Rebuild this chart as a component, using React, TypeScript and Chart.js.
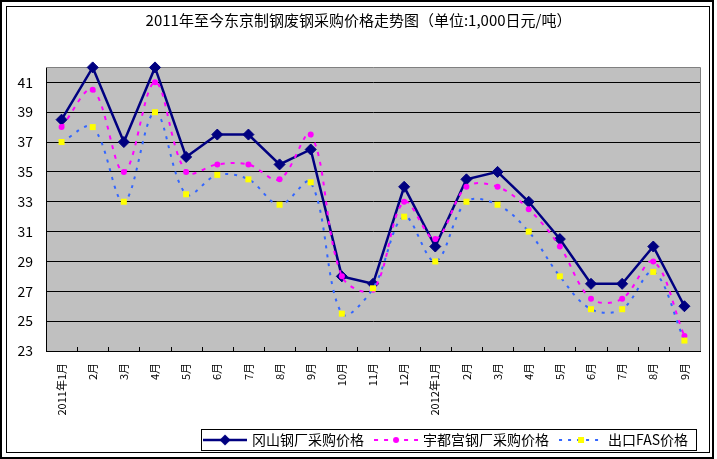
import React, { useEffect, useRef } from 'react';
import { Chart, registerables } from 'chart.js';

Chart.register(...registerables);

const FONT = "'Noto Sans CJK SC', 'DejaVu Sans', sans-serif";

const titleText = '2011年至今东京制钢废钢采购价格走势图（单位:1,000日元/吨）';

const categories = [
  '2011年1月', '2月', '3月', '4月', '5月', '6月', '7月', '8月', '9月', '10月', '11月', '12月',
  '2012年1月', '2月', '3月', '4月', '5月', '6月', '7月', '8月', '9月',
];

const seriesNames = ['冈山钢厂采购价格', '宇都宫钢厂采购价格', '出口FAS价格'];

const okayamaPrices = [38.5, 42, 37, 42, 36, 37.5, 37.5, 35.5, 36.5, 28, 27.5, 34, 30, 34.5, 35, 33, 30.5, 27.5, 27.5, 30, 26];
const utsunomiyaPrices = [38, 40.5, 35, 41, 35, 35.5, 35.5, 34.5, 37.5, 28, 27.1, 33, 30.5, 34, 34, 32.5, 30, 26.5, 26.5, 29, 24];
const fasPrices = [37, 38, 33, 39, 33.5, 34.8, 34.5, 32.8, 34.3, 25.5, 27.2, 32, 29, 33, 32.8, 31, 28, 25.8, 25.8, 28.3, 23.7];

const yTickValues = [23, 25, 27, 29, 31, 33, 35, 37, 39, 41];
const yMin = 23;
const yMax = 42;

function makeSample(kind: number): HTMLCanvasElement {
  const c = document.createElement('canvas');
  c.width = 44;
  c.height = 14;
  const g = c.getContext('2d')!;
  const cy = 7;
  if (kind === 0) {
    g.strokeStyle = '#000080';
    g.lineWidth = 2.5;
    g.beginPath();
    g.moveTo(0, cy);
    g.lineTo(44, cy);
    g.stroke();
    g.fillStyle = '#000080';
    g.beginPath();
    g.moveTo(22, cy - 5.5);
    g.lineTo(27.5, cy);
    g.lineTo(22, cy + 5.5);
    g.lineTo(16.5, cy);
    g.closePath();
    g.fill();
  } else if (kind === 1) {
    g.strokeStyle = '#FF00FF';
    g.lineWidth = 2;
    g.setLineDash([4, 6]);
    g.beginPath();
    g.moveTo(0, cy);
    g.lineTo(44, cy);
    g.stroke();
    g.fillStyle = '#FF00FF';
    g.beginPath();
    g.arc(22, cy, 3, 0, Math.PI * 2);
    g.fill();
  } else {
    g.strokeStyle = '#3366FF';
    g.lineWidth = 2;
    g.setLineDash([3, 6]);
    g.beginPath();
    g.moveTo(0, cy);
    g.lineTo(44, cy);
    g.stroke();
    g.fillStyle = '#FFFF00';
    g.fillRect(19, cy - 3, 6, 6);
  }
  return c;
}

const framePlugin = {
  id: 'frame',
  afterLayout(chart: any) {
    const tb = chart.titleBlock;
    if (tb) {
      tb.left = 0;
      tb.right = chart.width;
    }
  },
  beforeDraw(chart: any) {
    const { ctx, chartArea: a, width, height } = chart;
    ctx.save();
    ctx.fillStyle = '#FFFFFF';
    ctx.fillRect(0, 0, width, height);
    ctx.fillStyle = '#C0C0C0';
    ctx.fillRect(a.left, a.top, a.right - a.left, a.bottom - a.top);
    ctx.strokeStyle = '#000';
    ctx.lineWidth = 2;
    ctx.strokeRect(1, 1, width - 5, height - 2);
    ctx.lineWidth = 1;
    ctx.strokeRect(6.5, 6.5, width - 14, height - 13);
    ctx.restore();
  },
  beforeDatasetsDraw(chart: any) {
    const { ctx, chartArea: a } = chart;
    const xs = chart.scales.x;
    ctx.save();
    ctx.strokeStyle = '#808080';
    ctx.lineWidth = 1;
    const top = Math.floor(a.top) + 0.5;
    const right = Math.round(a.right) + 0.5;
    ctx.beginPath();
    ctx.moveTo(a.left, top);
    ctx.lineTo(right, top);
    ctx.lineTo(right, a.bottom);
    ctx.stroke();
    ctx.strokeStyle = '#000';
    ctx.beginPath();
    for (let i = 0; i < categories.length - 1; i++) {
      const px = Math.round((xs.getPixelForValue(i) + xs.getPixelForValue(i + 1)) / 2) + 0.5;
      ctx.moveTo(px, a.bottom - 4);
      ctx.lineTo(px, a.bottom);
    }
    ctx.stroke();
    ctx.restore();
  },
  afterDraw(chart: any) {
    const lg = chart.legend;
    if (!lg || !lg.lineWidths) return;
    const { ctx } = chart;
    const pad = lg.options.labels.padding;
    const start = lg.right - lg.lineWidths[0];
    const end = lg.right - pad;
    const cy = lg.top + pad + 7;
    ctx.save();
    ctx.strokeStyle = '#000';
    ctx.lineWidth = 1;
    ctx.strokeRect(Math.round(start - 4) + 0.5, Math.round(cy - 11) + 0.5, Math.round(end - start + 12), 21);
    ctx.restore();
  },
};

export default function App() {
  const ref = useRef<HTMLCanvasElement | null>(null);

  useEffect(() => {
    if (!ref.current) return;
    const samples = [makeSample(0), makeSample(1), makeSample(2)];
    const chart = new Chart(ref.current, {
      type: 'line',
      data: {
        labels: categories,
        datasets: [
          {
            label: seriesNames[0],
            data: okayamaPrices,
            borderColor: '#000080',
            backgroundColor: '#000080',
            borderWidth: 2.5,
            pointStyle: 'rectRot',
            pointRadius: 5.5,
            pointBackgroundColor: '#000080',
            pointBorderColor: '#000080',
            pointBorderWidth: 1,
            tension: 0,
            clip: false,
            order: 2,
          },
          {
            label: seriesNames[1],
            data: utsunomiyaPrices,
            borderColor: '#FF00FF',
            backgroundColor: '#FF00FF',
            borderWidth: 2,
            borderDash: [4, 6],
            pointStyle: 'circle',
            pointRadius: 3,
            pointBackgroundColor: '#FF00FF',
            pointBorderColor: '#FF00FF',
            pointBorderWidth: 0,
            tension: 0.35,
            clip: false,
            order: 1,
          },
          {
            label: seriesNames[2],
            data: fasPrices,
            borderColor: '#3366FF',
            backgroundColor: '#FFFF00',
            borderWidth: 2,
            borderDash: [3, 6],
            pointStyle: 'rect',
            pointRadius: 4.25,
            pointBackgroundColor: '#FFFF00',
            pointBorderColor: '#FFFF00',
            pointBorderWidth: 0,
            tension: 0.35,
            clip: false,
            order: 0,
          },
        ],
      },
      options: {
        responsive: false,
        animation: false,
        layout: { padding: { left: 0, right: 17, top: 0, bottom: 2 } },
        scales: {
          x: {
            type: 'category',
            offset: true,
            grid: { display: false, drawTicks: false },
            border: { display: true, color: '#000', width: 1 },
            ticks: {
              autoSkip: false,
              maxRotation: 90,
              minRotation: 90,
              padding: 12,
              color: '#000',
              font: { family: FONT, size: 11 },
            },
            afterFit: (s: any) => {
              s.height = 70;
            },
          },
          y: {
            min: yMin,
            max: yMax,
            grid: { color: '#000', lineWidth: 1, drawTicks: false },
            border: { display: true, color: '#000', width: 1 },
            ticks: { padding: 13, color: '#000', font: { family: FONT, size: 14 } },
            afterBuildTicks: (s: any) => {
              s.ticks = yTickValues.map((v) => ({ value: v }));
            },
            afterFit: (s: any) => {
              s.width = 46;
            },
          },
        },
        plugins: {
          title: {
            display: true,
            text: titleText,
            color: '#000',
            font: { family: FONT, size: 15, weight: 'normal' },
            padding: { top: 11, bottom: 38.4 },
          },
          legend: {
            display: true,
            position: 'bottom',
            align: 'end',
            labels: {
              usePointStyle: true,
              pointStyleWidth: 40,
              padding: 12,
              color: '#000',
              font: { family: FONT, size: 14 },
              generateLabels: (c: any) => {
                const items = (Chart.defaults.plugins.legend.labels as any).generateLabels(c);
                items.sort((p: any, q: any) => p.datasetIndex - q.datasetIndex);
                items.forEach((it: any) => {
                  it.pointStyle = samples[it.datasetIndex];
                  it.fontColor = '#000';
                });
                return items;
              },
            },
          },
          tooltip: { enabled: false },
        },
      } as any,
      plugins: [framePlugin],
    });
    return () => chart.destroy();
  }, []);

  return (
    <div style={{ position: 'absolute', left: 0, top: 0, width: 717, height: 459 }}>
      <canvas ref={ref} width={717} height={459} style={{ display: 'block' }} />
    </div>
  );
}
